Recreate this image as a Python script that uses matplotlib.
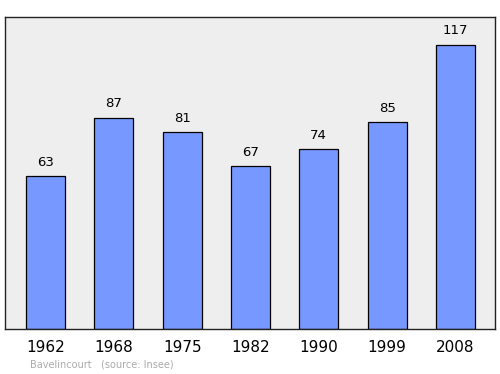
import matplotlib
matplotlib.use("Agg")
import matplotlib.pyplot as plt

# Population data
years = ["1962", "1968", "1975", "1982", "1990", "1999", "2008"]
population = [63, 87, 81, 67, 74, 85, 117]
commune = "Bavelincourt"
source = "(source: Insee)"

fig = plt.figure(figsize=(5.0, 3.74), dpi=100)
ax = fig.add_axes([0.01, 0.1203, 0.98, 0.8342])
ax.set_facecolor("#eeeeee")

x = range(len(years))
ax.bar(x, population, width=0.57, color="#7799ff", edgecolor="black", linewidth=0.9, zorder=2)

for xi, v in zip(x, population):
    ax.text(xi, v + 3.0, str(v), ha="center", va="bottom", fontsize=9.5, color="black")

ax.set_xlim(-0.593, 6.58)
ax.set_ylim(0, 128.4)
ax.set_xticks(list(x))
ax.set_xticklabels(years, fontsize=11)
ax.tick_params(axis="x", length=0, pad=8)
ax.set_yticks([])
for spine in ax.spines.values():
    spine.set_color("#222222")
    spine.set_linewidth(1.0)

fig.text(0.06, 0.012, commune + "   " + source, fontsize=7.0, color="#aaaaaa", ha="left", va="bottom")

fig.savefig("out.png", dpi=100)
